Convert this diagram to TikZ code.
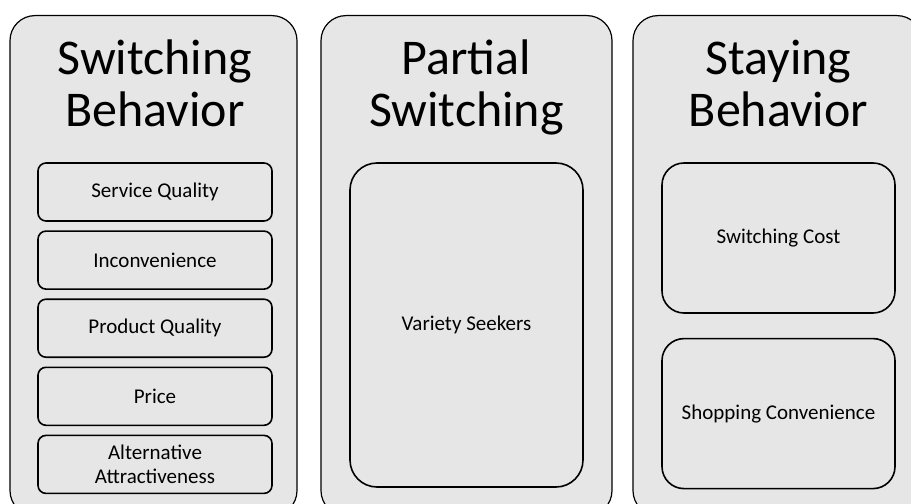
\documentclass[tikz,border=0pt]{standalone}
\usepackage{fontspec}
\setmainfont{Carlito}
\usetikzlibrary{positioning}
\definecolor{panelgray}{HTML}{E6E6E6}

\begin{document}
\begin{tikzpicture}[x=1bp, y=-1bp,
    panel/.style={draw, fill=panelgray, line width=1.2bp, rounded corners=25bp,
      minimum height=500bp, anchor=north, inner sep=0pt},
    title/.style={font=\fontsize{50bp}{52bp}\selectfont, align=center, anchor=base},
    factor/.style={draw, fill=panelgray, line width=1.6bp, rounded corners=8bp,
      minimum width=234bp, minimum height=58bp, inner sep=0pt, align=center,
      font=\fontsize{21bp}{24bp}\selectfont},
    bigfactor/.style={factor, minimum width=233bp, rounded corners=22bp}]
  \clip (0,0) rectangle (911,504);

  % the three panels
  \node[panel, minimum width=287bp] (switch) at (153.5,15) {};
  \node[panel, minimum width=291bp] (partial) at (466.5,15) {};
  \node[panel, minimum width=289bp] (stay) at (777.5,15) {};

  \node[title] (switch-t) at (155,127) {Switching\\Behavior};
  \node[title] (partial-t) at (466.5,127) {Partial\\Switching};
  \node[title] (stay-t) at (778.5,127) {Staying\\Behavior};

  % switching behavior
  \node[factor] (service) at (155,192) {Service Quality};
  \node[factor, below=8.5bp of service] (inconv) {Inconvenience};
  \node[factor, below=8.5bp of inconv] (product) {Product Quality};
  \node[factor, below=8.5bp of product] (price) {Price};
  \node[factor, below=8.5bp of price] (altern) {Alternative\\Attractiveness};

  % partial switching
  \node[bigfactor, minimum height=324bp, rounded corners=27bp] (variety) at (466.5,325) {Variety Seekers};

  % staying behavior
  \node[bigfactor, minimum height=150bp] (cost) at (778.5,238) {Switching Cost};
  \node[bigfactor, minimum height=150bp, below=24bp of cost] (shopping) {Shopping Convenience};
\end{tikzpicture}
\end{document}
